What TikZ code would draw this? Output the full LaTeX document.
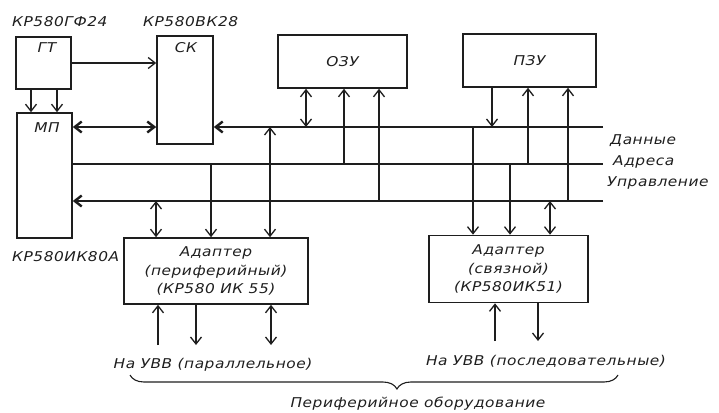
\documentclass[tikz,border=0pt]{standalone}
\usepackage{fontspec}
\usetikzlibrary{arrows.meta,decorations.pathreplacing}
\newfontfamily\gost[FakeStretch=1.14,LetterSpace=4]{DejaVu Sans Oblique}
\definecolor{ink}{RGB}{30,30,30}
\tikzset{
  box/.style={draw=ink, line width=1.6pt, inner sep=0pt},
  bus/.style={draw=ink, line width=2.4pt},
  conn/.style={draw=ink, line width=1.3pt},
  txt/.style={text=ink, inner sep=0pt, font=\gost\fontsize{13.5}{18.5}\selectfont},
  >={Straight Barb[length=7pt,width=11pt]}
}
\begin{document}
\begin{tikzpicture}[x=1pt,y=-1pt]
\useasboundingbox (0,0) rectangle (719,412);
% boxes
\node[box, minimum width=55pt, minimum height=52pt] (gt) at (43.5,63) {};
\node[box, minimum width=56pt, minimum height=108pt] (ck) at (185,90) {};
\node[box, minimum width=55pt, minimum height=125pt] (mp) at (44.5,175.5) {};
\node[box, txt, minimum width=129pt, minimum height=53pt] (ozu) at (342.5,61.5) {ОЗУ};
\node[box, txt, minimum width=133pt, minimum height=53pt] (pzu) at (529.5,60.5) {ПЗУ};
\node[box, txt, align=center, minimum width=184pt, minimum height=66pt] (ad1) at (216,271)
  {Адаптер\\(периферийный)\\(КР580 ИК 55)};
\node[box, txt, align=center, minimum width=159pt, minimum height=67pt] (ad2) at (508.5,269)
  {Адаптер\\(связной)\\(КР580ИК51)};
% box texts
\node[txt] (gtl) at (47,48) {ГТ};
\node[txt] (ckl) at (186,48) {СК};
\node[txt] (mpl) at (47,128) {МП};
\node[txt, anchor=west] (t1) at (12,22) {КР580ГФ24};
\node[txt, anchor=west] (t2) at (143,22) {КР580ВК28};
\node[txt, anchor=west] (t3) at (12,257) {КР580ИК80А};
% bus coordinates
\coordinate (dR) at (603,127);
\coordinate (aR) at (603,164);
\coordinate (cR) at (603,201);
\coordinate (o1) at (306,127); \coordinate (o2) at (344,164); \coordinate (o3) at (379,201);
\coordinate (p1) at (492,127); \coordinate (p2) at (528,164); \coordinate (p3) at (568,201);
\coordinate (a1) at (156,201); \coordinate (a2) at (211,164); \coordinate (a3) at (270,127);
\coordinate (b1) at (473,127); \coordinate (b2) at (510,164); \coordinate (b3) at (550,201);
\coordinate (u1) at (158,345); \coordinate (u2) at (196,345); \coordinate (u3) at (271,345);
\coordinate (v1) at (495,341); \coordinate (v2) at (538,341);
\coordinate (g1) at (31,0); \coordinate (g2) at (57,0);
% buses
\draw[bus,->] (dR) -- (ck.east |- dR);
\draw[bus] (mp.east |- aR) -- (aR);
\draw[bus,->] (cR) -- (mp.east |- cR);
\draw[bus,<->] (mp.east |- dR) -- (ck.west |- dR);
% bus labels
\node[txt, anchor=west] (ld) at (610,141) {Данные};
\node[txt, anchor=west] (la) at (613,162) {Адреса};
\node[txt, anchor=west] (lc) at (607,183) {Управление};
% GT connections
\draw[conn,->] (gt) -- (ck.west |- gt);
\draw[conn,->] (gt.south -| g1) -- (mp.north -| g1);
\draw[conn,->] (gt.south -| g2) -- (mp.north -| g2);
% OZU
\draw[conn,<->] (ozu.south -| o1) -- (o1);
\draw[conn,->] (o2) -- (ozu.south -| o2);
\draw[conn,->] (o3) -- (ozu.south -| o3);
% PZU
\draw[conn,->] (pzu.south -| p1) -- (p1);
\draw[conn,->] (p2) -- (pzu.south -| p2);
\draw[conn,->] (p3) -- (pzu.south -| p3);
% adapter 1
\draw[conn,<->] (a1) -- (ad1.north -| a1);
\draw[conn,->] (a2) -- (ad1.north -| a2);
\draw[conn,<->] (a3) -- (ad1.north -| a3);
% adapter 2
\draw[conn,->] (b1) -- (ad2.north -| b1);
\draw[conn,->] (b2) -- (ad2.north -| b2);
\draw[conn,<->] (b3) -- (ad2.north -| b3);
% peripherals
\draw[conn,->] (u1) -- (ad1.south -| u1);
\draw[conn,->] (ad1.south -| u2) -- (u2);
\draw[conn,<->] (ad1.south -| u3) -- (u3);
\draw[conn,->] (v1) -- (ad2.south -| v1);
\draw[conn,->] (ad2.south -| v2) -- (v2);
% bottom labels
\node[txt] (n1) at (213,365) {На УВВ (параллельное)};
\node[txt] (n2) at (546,361) {На УВВ (последовательные)};
\coordinate (br1) at (130,375);
\coordinate (br2) at (618,375);
\draw[conn, line width=1.1pt, decorate, decoration={brace, mirror, amplitude=14pt, aspect=0.547}] (br1) -- (br2);
\node[txt] (n3) at (418,404) {Периферийное оборудование};
\end{tikzpicture}
\end{document}
